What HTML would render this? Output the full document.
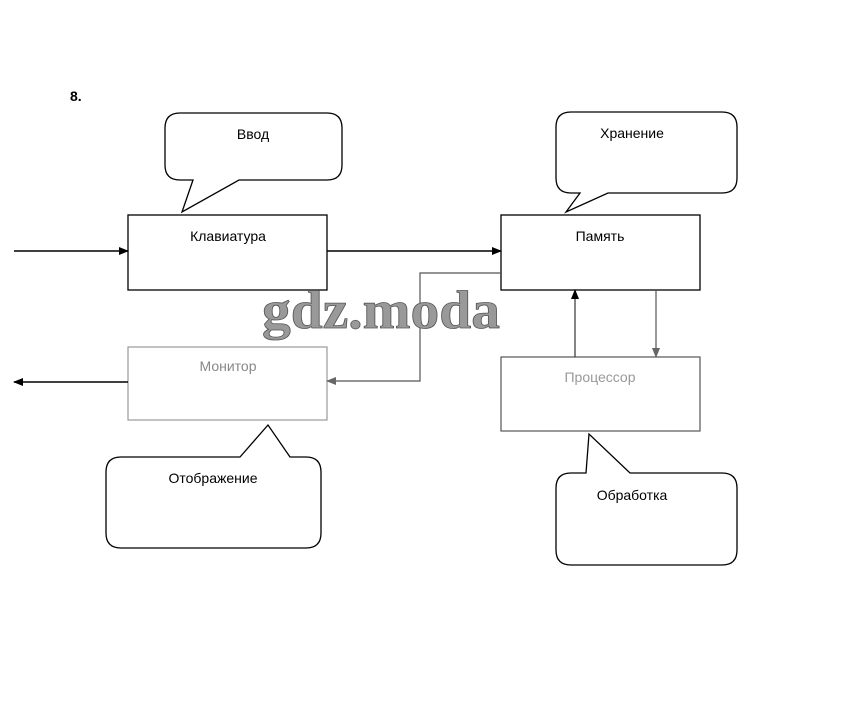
<!DOCTYPE html>
<html><head><meta charset="utf-8"><style>
html,body{margin:0;padding:0;background:#fff;}
svg{display:block;font-family:"Liberation Sans",sans-serif;}
</style></head><body>
<svg width="863" height="703" viewBox="0 0 863 703" xmlns="http://www.w3.org/2000/svg">
<defs>
<marker id="ab" markerWidth="10" markerHeight="8" refX="9" refY="4" orient="auto" markerUnits="userSpaceOnUse"><path d="M0,0 L10,4 L0,8 z" fill="#000"/></marker>
<marker id="ag" markerWidth="10" markerHeight="8" refX="9" refY="4" orient="auto" markerUnits="userSpaceOnUse"><path d="M0,0 L10,4 L0,8 z" fill="#666"/></marker>
</defs>
<text x="70" y="101" font-size="14" font-weight="bold">8.</text>

<path d="M180,113 H327 Q342,113 342,128 V165 Q342,180 327,180 H239 L182,212 L193,180 H180 Q165,180 165,165 V128 Q165,113 180,113 Z" fill="#fff" stroke="#000" stroke-width="1.3"/>
<text x="253" y="139" font-size="14" text-anchor="middle">Ввод</text>

<path d="M571,112 H722 Q737,112 737,127 V178 Q737,193 722,193 H608 L566,212 L580,193 H571 Q556,193 556,178 V127 Q556,112 571,112 Z" fill="#fff" stroke="#000" stroke-width="1.3"/>
<text x="632" y="138" font-size="14" text-anchor="middle">Хранение</text>

<path d="M121,457 H240 L268,425 L290,457 H306 Q321,457 321,472 V533 Q321,548 306,548 H121 Q106,548 106,533 V472 Q106,457 121,457 Z" fill="#fff" stroke="#000" stroke-width="1.3"/>
<text x="213" y="483" font-size="14" text-anchor="middle">Отображение</text>

<path d="M571,473 H586 L589,434 L630,473 H722 Q737,473 737,488 V550 Q737,565 722,565 H571 Q556,565 556,550 V488 Q556,473 571,473 Z" fill="#fff" stroke="#000" stroke-width="1.3"/>
<text x="632" y="500" font-size="14" text-anchor="middle">Обработка</text>

<rect x="128" y="215" width="199" height="75" fill="#fff" stroke="#000" stroke-width="1.3"/>
<text x="228" y="241" font-size="14" text-anchor="middle">Клавиатура</text>
<rect x="501" y="215" width="199" height="75" fill="#fff" stroke="#000" stroke-width="1.3"/>
<text x="600" y="241" font-size="14" text-anchor="middle">Память</text>
<rect x="128" y="347" width="199" height="73" fill="#fff" stroke="#999" stroke-width="1.2"/>
<text x="228" y="371" font-size="14" text-anchor="middle" fill="#888">Монитор</text>
<rect x="501" y="357" width="199" height="74" fill="#fff" stroke="#555" stroke-width="1.2"/>
<text x="600" y="382" font-size="14" text-anchor="middle" fill="#999">Процессор</text>

<line x1="14" y1="251" x2="128" y2="251" stroke="#000" stroke-width="1.5" marker-end="url(#ab)"/>
<line x1="327" y1="251" x2="501" y2="251" stroke="#000" stroke-width="1.5" marker-end="url(#ab)"/>
<polyline points="501,273 420,273 420,381 327,381" fill="none" stroke="#555" stroke-width="1.2" marker-end="url(#ag)"/>
<line x1="128" y1="382" x2="14" y2="382" stroke="#000" stroke-width="1.5" marker-end="url(#ab)"/>
<line x1="575" y1="357" x2="575" y2="290" stroke="#333" stroke-width="1.2" marker-end="url(#ab)"/>
<line x1="656" y1="290" x2="656" y2="357" stroke="#555" stroke-width="1.2" marker-end="url(#ag)"/>

<text x="262" y="328" font-family="Liberation Serif,serif" font-size="54" font-weight="bold" fill="#999" stroke="#555" stroke-width="0.8" textLength="238" lengthAdjust="spacingAndGlyphs">gdz.moda</text>
</svg>
</body></html>
